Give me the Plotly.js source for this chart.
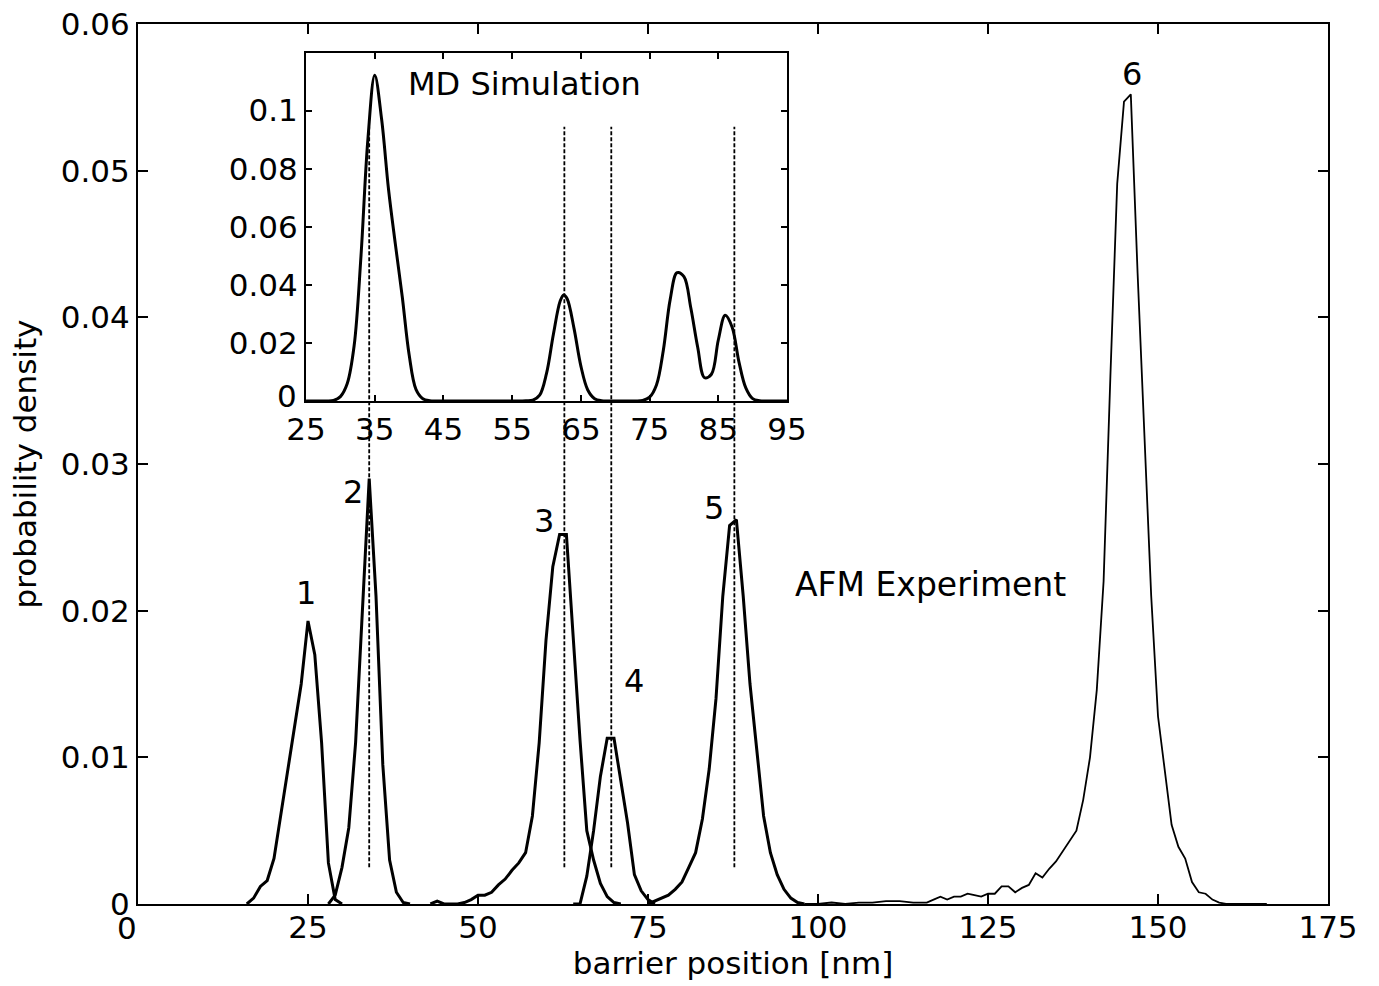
<!DOCTYPE html>
<html>
<head>
<meta charset="utf-8">
<script src="https://cdn.plot.ly/plotly-3.0.1.min.js"></script>
<style>
html,body{margin:0;padding:0;background:#fff;}
#chart{width:1379px;height:986px;}
</style>
</head>
<body>
<div id="chart"></div>
<script>
// ---------- AFM experiment (main plot) ----------
var peak1X = [16,17,18,19,20,21,22,23,24,25,26,27,28,29,30];
var peak1Y = [0,0.0004,0.0012,0.0016,0.0031,0.0060,0.0092,0.0120,0.0150,0.0193,0.0170,0.0110,0.0028,0.0003,0];

var peak2X = [28,29,30,31,32,33,34,35,36,37,38,39,40];
var peak2Y = [0,0.0006,0.0025,0.0052,0.0110,0.0200,0.0290,0.0210,0.0095,0.0030,0.0008,0.0001,0];

var peak3X = [43,44,45,47,48,49,50,51,52,53,54,55,56,57,58,59,60,61,62,63,64,65,66,67,68,69,70,71];
var peak3Y = [0,0.0002,0,0,0.0001,0.0003,0.0006,0.0006,0.0008,0.0013,0.0017,0.0023,0.0028,0.0035,0.0060,0.0110,0.0180,0.0230,0.0252,0.0252,0.0182,0.0112,0.0050,0.0030,0.0014,0.0005,0.0001,0];

var peak4X = [64,65,66,67,68,69,70,71,72,73,74,75,76];
var peak4Y = [0,0,0.0019,0.0050,0.0087,0.0113,0.0113,0.0083,0.0055,0.0020,0.0009,0.0003,0];

var peak5X = [75,76,77,78,79,80,81,82,83,84,85,86,87,88,89,90,91,92,93,94,95,96,97,98];
var peak5Y = [0,0.0002,0.0004,0.0006,0.0010,0.0015,0.0025,0.0035,0.0058,0.0092,0.0140,0.0210,0.0258,0.0262,0.0210,0.0150,0.0105,0.0060,0.0035,0.0020,0.0010,0.0004,0.0001,0];

var peak6X = [98,100,102,104,106,108,110,112,114,116,117,118,119,120,121,122,123,124,125,126,127,128,129,130,131,132,133,134,135,136,137,138,139,140,141,142,143,144,145,146,147,148,149,150,151,152,153,154,155,156,157,158,159,160,163,166];
var peak6Y = [0,0,0.0001,0,0.0001,0.0001,0.0002,0.0002,0.0001,0.0001,0.0003,0.0005,0.0003,0.0005,0.0005,0.0007,0.0006,0.0005,0.0007,0.0007,0.0012,0.0012,0.0008,0.0011,0.0013,0.0021,0.0018,0.0024,0.0029,0.0036,0.0043,0.0050,0.0071,0.0100,0.0146,0.0220,0.0360,0.0491,0.0547,0.0552,0.0430,0.0320,0.0210,0.0128,0.0090,0.0054,0.0039,0.0031,0.0015,0.0008,0.0007,0.0003,0.0001,0,0,0];

// AFM peak positions marked by dotted lines
var markerX = [34.0, 62.7, 69.6, 87.7];

// ---------- MD simulation (inset) ----------
var mdX = [25,28,29,30,31,32,33,34,35,36,37,38,39,40,41,42,43,44,50,56,57,58,59,60,61,62,62.5,63,64,65,66,67,68,69,72,73,74,75,76,77,78,79,80,81,82,83,84,85,86,87,88,89,90,91,92,95];
var mdY = [0,0,0.0002,0.0015,0.0060,0.0190,0.0500,0.0900,0.1122,0.0970,0.0730,0.0540,0.0360,0.0160,0.0040,0.0008,0.0001,0,0,0,0.0001,0.0003,0.0020,0.0095,0.0230,0.0345,0.0365,0.0352,0.0250,0.0120,0.0038,0.0008,0.0001,0,0,0,0.0002,0.0013,0.0055,0.0175,0.0350,0.0442,0.0428,0.0320,0.0185,0.0080,0.0092,0.0210,0.0295,0.0255,0.0135,0.0045,0.0008,0.0001,0,0];

// tick labels
var mainXTicks = [0,25,50,75,100,125,150,175];
var mainXText = ['','25','50','75','100','125','150','175'];
var mainYTicks = [0,0.01,0.02,0.03,0.04,0.05,0.06];
var mainYText = ['0','0.01','0.02','0.03','0.04','0.05','0.06'];
var insetXTicks = [25,35,45,55,65,75,85,95];
var insetXText = ['25','35','45','55','65','75','85','95'];
var insetYTicks = [0,0.02,0.04,0.06,0.08,0.1];
var insetYText = ['','0.02','0.04','0.06','0.08','0.1'];

var peakLabels = ['1','2','3','4','5','6'];
var peakLabelX = [24.75,31.6,59.75,73.0,84.75,146.2];
var peakLabelY = [0.0212,0.0281,0.0261,0.0152,0.0270,0.0566];

var FONT = 'DejaVu Sans, Arial, sans-serif';

function thick(x, y, w) {
  return {x: x, y: y, type: 'scatter', mode: 'lines', xaxis: 'x', yaxis: 'y',
          line: {color: '#000', width: w}, hoverinfo: 'skip', showlegend: false};
}

var traces = [
  thick(peak6X, peak6Y, 1.8),
  thick(peak1X, peak1Y, 3),
  thick(peak2X, peak2Y, 3),
  thick(peak3X, peak3Y, 3),
  thick(peak4X, peak4Y, 3),
  thick(peak5X, peak5Y, 3),
  {x: mdX, y: mdY, type: 'scatter', mode: 'lines', xaxis: 'x2', yaxis: 'y2',
   line: {color: '#000', width: 3, shape: 'spline', smoothing: 1}, hoverinfo: 'skip', showlegend: false}
];

var shapes = markerX.map(function (mx) {
  return {type: 'line', xref: 'x', yref: 'y', x0: mx, x1: mx, y0: 0.0025, y1: 0.053,
          layer: 'above', line: {color: '#000', width: 1.8, dash: '4px,2px'}};
});

var annotations = peakLabels.map(function (t, i) {
  return {text: t, x: peakLabelX[i], y: peakLabelY[i], xref: 'x', yref: 'y',
          showarrow: false, xanchor: 'center', yanchor: 'middle',
          font: {family: FONT, size: 32, color: '#000'}};
});
annotations.push({text: 'AFM Experiment', x: 96.3, y: 0.0218, xref: 'x', yref: 'y',
  showarrow: false, xanchor: 'left', yanchor: 'middle', font: {family: FONT, size: 33, color: '#000'}});
annotations.push({text: 'MD Simulation', x: 56.8, y: 0.1092, xref: 'x2', yref: 'y2',
  showarrow: false, xanchor: 'center', yanchor: 'middle', font: {family: FONT, size: 32, color: '#000'}});
// main x-axis "0" label, shifted left of the corner as in the original
annotations.push({text: '0', x: -0.009, y: 0, xref: 'paper', yref: 'paper', yshift: -24,
  showarrow: false, xanchor: 'center', yanchor: 'middle', font: {family: FONT, size: 31, color: '#000'}});
// inset y-axis "0" label, raised slightly as in the original
annotations.push({text: '0', x: 0.1412, y: 0.5716, xref: 'paper', yref: 'paper', xshift: -7, yshift: 5,
  showarrow: false, xanchor: 'right', yanchor: 'middle', font: {family: FONT, size: 31, color: '#000'}});

var axCommon = {
  showgrid: false, zeroline: false, showline: true, linecolor: '#000', linewidth: 2,
  mirror: 'ticks', ticks: 'inside', tickcolor: '#000', tickwidth: 2,
  tickfont: {family: FONT, size: 31, color: '#000'}, tickmode: 'array', fixedrange: true
};

var layout = {
  width: 1379, height: 986,
  margin: {l: 138, r: 51, t: 24, b: 82, pad: 0},
  paper_bgcolor: '#fff', plot_bgcolor: '#fff',
  showlegend: false,
  font: {family: FONT, color: '#000'},
  xaxis: Object.assign({}, axCommon, {
    range: [0, 175], domain: [0, 1], ticklen: 10, ticklabelstandoff: -5,
    tickvals: mainXTicks, ticktext: mainXText,
    title: {text: 'barrier position [nm]', font: {family: FONT, size: 31, color: '#000'}, standoff: 1}
  }),
  yaxis: Object.assign({}, axCommon, {
    range: [0, 0.06], domain: [0, 1], ticklen: 10,
    tickvals: mainYTicks, ticktext: mainYText,
    title: {text: 'probability density', font: {family: FONT, size: 31, color: '#000'}, standoff: 15}
  }),
  xaxis2: Object.assign({}, axCommon, {
    range: [25, 95], domain: [0.1412, 0.5454], anchor: 'y2', ticklen: 6,
    tickvals: insetXTicks, ticktext: insetXText
  }),
  yaxis2: Object.assign({}, axCommon, {
    range: [0, 0.12], domain: [0.5716, 0.9676], anchor: 'x2', ticklen: 6,
    tickvals: insetYTicks, ticktext: insetYText
  }),
  shapes: shapes,
  annotations: annotations
};

Plotly.newPlot('chart', traces, layout, {staticPlot: true, displayModeBar: false});
</script>
</body>
</html>
